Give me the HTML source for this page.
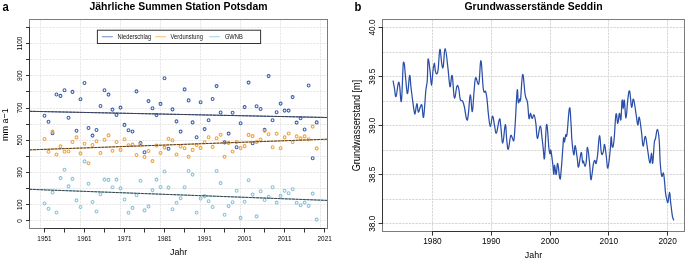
<!DOCTYPE html>
<html><head><meta charset="utf-8"><title>Wasserbilanz Potsdam / Seddin</title>
<style>
html,body{margin:0;padding:0;background:#fff;}
body{width:685px;height:261px;overflow:hidden;font-family:"Liberation Sans",sans-serif;}
svg{display:block;will-change:transform;}
</style></head><body>
<svg width="685" height="261" viewBox="0 0 685 261">
<path d="M29.5 220.50H327.5 M29.5 204.50H327.5 M29.5 188.50H327.5 M29.5 172.50H327.5 M29.5 156.50H327.5 M29.5 140.50H327.5 M29.5 124.50H327.5 M29.5 108.50H327.5 M29.5 91.50H327.5 M29.5 75.50H327.5 M29.5 59.50H327.5 M29.5 43.50H327.5 M29.5 27.50H327.5 M40.50 19.5V228.5 M80.50 19.5V228.5 M120.50 19.5V228.5 M160.50 19.5V228.5 M200.50 19.5V228.5 M240.50 19.5V228.5 M280.50 19.5V228.5 M320.50 19.5V228.5" stroke="#e8e8e8" stroke-width="1" stroke-dasharray="2.4 0.9" fill="none"/>
<g fill="none" stroke="#3a60b5" stroke-width="1.1"><ellipse cx="44.5" cy="115.8" rx="1.42" ry="1.52"/><ellipse cx="48.5" cy="121.8" rx="1.42" ry="1.52"/><ellipse cx="52.5" cy="133.3" rx="1.42" ry="1.52"/><ellipse cx="56.5" cy="94.5" rx="1.42" ry="1.52"/><ellipse cx="60.5" cy="95.9" rx="1.42" ry="1.52"/><ellipse cx="64.5" cy="90.2" rx="1.42" ry="1.52"/><ellipse cx="68.5" cy="117.7" rx="1.42" ry="1.52"/><ellipse cx="72.5" cy="91.9" rx="1.42" ry="1.52"/><ellipse cx="76.5" cy="130.7" rx="1.42" ry="1.52"/><ellipse cx="80.5" cy="99.2" rx="1.42" ry="1.52"/><ellipse cx="84.5" cy="83.0" rx="1.42" ry="1.52"/><ellipse cx="88.5" cy="128.0" rx="1.42" ry="1.52"/><ellipse cx="92.5" cy="135.6" rx="1.42" ry="1.52"/><ellipse cx="96.5" cy="130.0" rx="1.42" ry="1.52"/><ellipse cx="100.5" cy="106.0" rx="1.42" ry="1.52"/><ellipse cx="104.5" cy="90.2" rx="1.42" ry="1.52"/><ellipse cx="108.5" cy="94.6" rx="1.42" ry="1.52"/><ellipse cx="112.5" cy="109.6" rx="1.42" ry="1.52"/><ellipse cx="116.5" cy="114.9" rx="1.42" ry="1.52"/><ellipse cx="120.5" cy="107.6" rx="1.42" ry="1.52"/><ellipse cx="124.5" cy="124.9" rx="1.42" ry="1.52"/><ellipse cx="128.5" cy="130.2" rx="1.42" ry="1.52"/><ellipse cx="132.5" cy="131.5" rx="1.42" ry="1.52"/><ellipse cx="136.5" cy="91.4" rx="1.42" ry="1.52"/><ellipse cx="140.5" cy="143.0" rx="1.42" ry="1.52"/><ellipse cx="144.5" cy="152.2" rx="1.42" ry="1.52"/><ellipse cx="148.5" cy="101.1" rx="1.42" ry="1.52"/><ellipse cx="152.5" cy="108.3" rx="1.42" ry="1.52"/><ellipse cx="156.5" cy="115.1" rx="1.42" ry="1.52"/><ellipse cx="160.5" cy="103.9" rx="1.42" ry="1.52"/><ellipse cx="164.5" cy="78.2" rx="1.42" ry="1.52"/><ellipse cx="168.5" cy="148.7" rx="1.42" ry="1.52"/><ellipse cx="172.5" cy="109.4" rx="1.42" ry="1.52"/><ellipse cx="176.5" cy="121.4" rx="1.42" ry="1.52"/><ellipse cx="180.6" cy="131.6" rx="1.42" ry="1.52"/><ellipse cx="184.6" cy="89.4" rx="1.42" ry="1.52"/><ellipse cx="188.6" cy="100.4" rx="1.42" ry="1.52"/><ellipse cx="192.6" cy="122.4" rx="1.42" ry="1.52"/><ellipse cx="196.6" cy="137.2" rx="1.42" ry="1.52"/><ellipse cx="200.6" cy="102.2" rx="1.42" ry="1.52"/><ellipse cx="204.6" cy="129.1" rx="1.42" ry="1.52"/><ellipse cx="208.6" cy="120.3" rx="1.42" ry="1.52"/><ellipse cx="212.6" cy="99.0" rx="1.42" ry="1.52"/><ellipse cx="216.6" cy="86.1" rx="1.42" ry="1.52"/><ellipse cx="220.6" cy="112.5" rx="1.42" ry="1.52"/><ellipse cx="224.6" cy="142.4" rx="1.42" ry="1.52"/><ellipse cx="228.6" cy="133.6" rx="1.42" ry="1.52"/><ellipse cx="232.6" cy="112.8" rx="1.42" ry="1.52"/><ellipse cx="236.6" cy="147.2" rx="1.42" ry="1.52"/><ellipse cx="240.6" cy="123.2" rx="1.42" ry="1.52"/><ellipse cx="244.6" cy="107.1" rx="1.42" ry="1.52"/><ellipse cx="248.6" cy="82.6" rx="1.42" ry="1.52"/><ellipse cx="252.6" cy="143.3" rx="1.42" ry="1.52"/><ellipse cx="256.6" cy="106.3" rx="1.42" ry="1.52"/><ellipse cx="260.6" cy="109.0" rx="1.42" ry="1.52"/><ellipse cx="264.6" cy="129.9" rx="1.42" ry="1.52"/><ellipse cx="268.6" cy="76.1" rx="1.42" ry="1.52"/><ellipse cx="272.6" cy="120.3" rx="1.42" ry="1.52"/><ellipse cx="276.6" cy="112.2" rx="1.42" ry="1.52"/><ellipse cx="280.6" cy="103.6" rx="1.42" ry="1.52"/><ellipse cx="284.6" cy="110.6" rx="1.42" ry="1.52"/><ellipse cx="288.6" cy="110.6" rx="1.42" ry="1.52"/><ellipse cx="292.6" cy="97.1" rx="1.42" ry="1.52"/><ellipse cx="296.6" cy="122.6" rx="1.42" ry="1.52"/><ellipse cx="300.6" cy="118.3" rx="1.42" ry="1.52"/><ellipse cx="304.6" cy="129.5" rx="1.42" ry="1.52"/><ellipse cx="308.6" cy="85.5" rx="1.42" ry="1.52"/><ellipse cx="312.7" cy="158.3" rx="1.42" ry="1.52"/><ellipse cx="316.7" cy="122.4" rx="1.42" ry="1.52"/></g>
<g fill="none" stroke="#f4a236" stroke-width="1.1"><ellipse cx="44.5" cy="139" rx="1.42" ry="1.52"/><ellipse cx="48.5" cy="151.8" rx="1.42" ry="1.52"/><ellipse cx="52.5" cy="131.6" rx="1.42" ry="1.52"/><ellipse cx="56.5" cy="154.5" rx="1.42" ry="1.52"/><ellipse cx="60.5" cy="146.4" rx="1.42" ry="1.52"/><ellipse cx="64.5" cy="151.8" rx="1.42" ry="1.52"/><ellipse cx="68.5" cy="151.5" rx="1.42" ry="1.52"/><ellipse cx="72.5" cy="142" rx="1.42" ry="1.52"/><ellipse cx="76.5" cy="137.4" rx="1.42" ry="1.52"/><ellipse cx="80.5" cy="153.4" rx="1.42" ry="1.52"/><ellipse cx="84.5" cy="143.8" rx="1.42" ry="1.52"/><ellipse cx="88.5" cy="163.3" rx="1.42" ry="1.52"/><ellipse cx="92.5" cy="145" rx="1.42" ry="1.52"/><ellipse cx="96.5" cy="141.2" rx="1.42" ry="1.52"/><ellipse cx="100.5" cy="153" rx="1.42" ry="1.52"/><ellipse cx="104.5" cy="139.8" rx="1.42" ry="1.52"/><ellipse cx="108.5" cy="135.4" rx="1.42" ry="1.52"/><ellipse cx="112.5" cy="150.8" rx="1.42" ry="1.52"/><ellipse cx="116.5" cy="142" rx="1.42" ry="1.52"/><ellipse cx="120.5" cy="149.9" rx="1.42" ry="1.52"/><ellipse cx="124.5" cy="139.3" rx="1.42" ry="1.52"/><ellipse cx="128.5" cy="145.2" rx="1.42" ry="1.52"/><ellipse cx="132.5" cy="144.6" rx="1.42" ry="1.52"/><ellipse cx="136.5" cy="155" rx="1.42" ry="1.52"/><ellipse cx="140.5" cy="144.6" rx="1.42" ry="1.52"/><ellipse cx="144.5" cy="157" rx="1.42" ry="1.52"/><ellipse cx="148.5" cy="151" rx="1.42" ry="1.52"/><ellipse cx="152.5" cy="161.1" rx="1.42" ry="1.52"/><ellipse cx="156.5" cy="145.6" rx="1.42" ry="1.52"/><ellipse cx="160.5" cy="153" rx="1.42" ry="1.52"/><ellipse cx="164.5" cy="147.6" rx="1.42" ry="1.52"/><ellipse cx="168.5" cy="138.7" rx="1.42" ry="1.52"/><ellipse cx="172.5" cy="140.3" rx="1.42" ry="1.52"/><ellipse cx="176.5" cy="154.5" rx="1.42" ry="1.52"/><ellipse cx="180.6" cy="146.4" rx="1.42" ry="1.52"/><ellipse cx="184.6" cy="148.2" rx="1.42" ry="1.52"/><ellipse cx="188.6" cy="156.7" rx="1.42" ry="1.52"/><ellipse cx="192.6" cy="149.9" rx="1.42" ry="1.52"/><ellipse cx="196.6" cy="145" rx="1.42" ry="1.52"/><ellipse cx="200.6" cy="147.9" rx="1.42" ry="1.52"/><ellipse cx="204.6" cy="142.3" rx="1.42" ry="1.52"/><ellipse cx="208.6" cy="137.2" rx="1.42" ry="1.52"/><ellipse cx="212.6" cy="146.9" rx="1.42" ry="1.52"/><ellipse cx="216.6" cy="138.3" rx="1.42" ry="1.52"/><ellipse cx="220.6" cy="134.7" rx="1.42" ry="1.52"/><ellipse cx="224.6" cy="156.8" rx="1.42" ry="1.52"/><ellipse cx="228.6" cy="142.9" rx="1.42" ry="1.52"/><ellipse cx="232.6" cy="151.5" rx="1.42" ry="1.52"/><ellipse cx="236.6" cy="142.1" rx="1.42" ry="1.52"/><ellipse cx="240.6" cy="148.1" rx="1.42" ry="1.52"/><ellipse cx="244.6" cy="146.1" rx="1.42" ry="1.52"/><ellipse cx="248.6" cy="134.9" rx="1.42" ry="1.52"/><ellipse cx="252.6" cy="136.1" rx="1.42" ry="1.52"/><ellipse cx="256.6" cy="142" rx="1.42" ry="1.52"/><ellipse cx="260.6" cy="139.5" rx="1.42" ry="1.52"/><ellipse cx="264.6" cy="130.8" rx="1.42" ry="1.52"/><ellipse cx="268.6" cy="134.3" rx="1.42" ry="1.52"/><ellipse cx="272.6" cy="147.2" rx="1.42" ry="1.52"/><ellipse cx="276.6" cy="133.8" rx="1.42" ry="1.52"/><ellipse cx="280.6" cy="148.2" rx="1.42" ry="1.52"/><ellipse cx="284.6" cy="137.4" rx="1.42" ry="1.52"/><ellipse cx="288.6" cy="133.5" rx="1.42" ry="1.52"/><ellipse cx="292.6" cy="142.1" rx="1.42" ry="1.52"/><ellipse cx="296.6" cy="136.4" rx="1.42" ry="1.52"/><ellipse cx="300.6" cy="138.4" rx="1.42" ry="1.52"/><ellipse cx="304.6" cy="136.4" rx="1.42" ry="1.52"/><ellipse cx="308.6" cy="139.3" rx="1.42" ry="1.52"/><ellipse cx="312.7" cy="126.6" rx="1.42" ry="1.52"/><ellipse cx="316.7" cy="148.4" rx="1.42" ry="1.52"/></g>
<g fill="none" stroke="#86c5dd" stroke-width="1.1"><ellipse cx="44.5" cy="203.5" rx="1.42" ry="1.52"/><ellipse cx="48.5" cy="208.7" rx="1.42" ry="1.52"/><ellipse cx="52.5" cy="192.5" rx="1.42" ry="1.52"/><ellipse cx="56.5" cy="212.5" rx="1.42" ry="1.52"/><ellipse cx="60.5" cy="178.1" rx="1.42" ry="1.52"/><ellipse cx="64.5" cy="169.8" rx="1.42" ry="1.52"/><ellipse cx="68.5" cy="186.4" rx="1.42" ry="1.52"/><ellipse cx="72.5" cy="178.9" rx="1.42" ry="1.52"/><ellipse cx="76.5" cy="200.4" rx="1.42" ry="1.52"/><ellipse cx="80.5" cy="207" rx="1.42" ry="1.52"/><ellipse cx="84.5" cy="161.4" rx="1.42" ry="1.52"/><ellipse cx="88.5" cy="183.8" rx="1.42" ry="1.52"/><ellipse cx="92.5" cy="202" rx="1.42" ry="1.52"/><ellipse cx="96.5" cy="211.5" rx="1.42" ry="1.52"/><ellipse cx="100.5" cy="194.2" rx="1.42" ry="1.52"/><ellipse cx="104.5" cy="179.6" rx="1.42" ry="1.52"/><ellipse cx="108.5" cy="179.9" rx="1.42" ry="1.52"/><ellipse cx="112.5" cy="187.3" rx="1.42" ry="1.52"/><ellipse cx="116.5" cy="179.6" rx="1.42" ry="1.52"/><ellipse cx="120.5" cy="188.4" rx="1.42" ry="1.52"/><ellipse cx="124.5" cy="199.5" rx="1.42" ry="1.52"/><ellipse cx="128.5" cy="212.7" rx="1.42" ry="1.52"/><ellipse cx="132.5" cy="207.9" rx="1.42" ry="1.52"/><ellipse cx="136.5" cy="195.3" rx="1.42" ry="1.52"/><ellipse cx="140.5" cy="180.7" rx="1.42" ry="1.52"/><ellipse cx="144.5" cy="210.4" rx="1.42" ry="1.52"/><ellipse cx="148.5" cy="206.4" rx="1.42" ry="1.52"/><ellipse cx="152.5" cy="190.1" rx="1.42" ry="1.52"/><ellipse cx="156.5" cy="179.6" rx="1.42" ry="1.52"/><ellipse cx="160.5" cy="187" rx="1.42" ry="1.52"/><ellipse cx="164.5" cy="171.5" rx="1.42" ry="1.52"/><ellipse cx="168.5" cy="187.6" rx="1.42" ry="1.52"/><ellipse cx="172.5" cy="209.3" rx="1.42" ry="1.52"/><ellipse cx="176.5" cy="202.7" rx="1.42" ry="1.52"/><ellipse cx="180.6" cy="198.2" rx="1.42" ry="1.52"/><ellipse cx="184.6" cy="187.3" rx="1.42" ry="1.52"/><ellipse cx="188.6" cy="171" rx="1.42" ry="1.52"/><ellipse cx="192.6" cy="174.6" rx="1.42" ry="1.52"/><ellipse cx="196.6" cy="212.5" rx="1.42" ry="1.52"/><ellipse cx="200.6" cy="198.6" rx="1.42" ry="1.52"/><ellipse cx="204.6" cy="196.1" rx="1.42" ry="1.52"/><ellipse cx="208.6" cy="201.2" rx="1.42" ry="1.52"/><ellipse cx="212.6" cy="207" rx="1.42" ry="1.52"/><ellipse cx="216.6" cy="171" rx="1.42" ry="1.52"/><ellipse cx="220.6" cy="183.1" rx="1.42" ry="1.52"/><ellipse cx="224.6" cy="214.8" rx="1.42" ry="1.52"/><ellipse cx="228.6" cy="206.1" rx="1.42" ry="1.52"/><ellipse cx="232.6" cy="202.3" rx="1.42" ry="1.52"/><ellipse cx="236.6" cy="190.8" rx="1.42" ry="1.52"/><ellipse cx="240.6" cy="217.9" rx="1.42" ry="1.52"/><ellipse cx="244.6" cy="201.8" rx="1.42" ry="1.52"/><ellipse cx="248.6" cy="180.2" rx="1.42" ry="1.52"/><ellipse cx="252.6" cy="194.6" rx="1.42" ry="1.52"/><ellipse cx="256.6" cy="216.4" rx="1.42" ry="1.52"/><ellipse cx="260.6" cy="191.3" rx="1.42" ry="1.52"/><ellipse cx="264.6" cy="200" rx="1.42" ry="1.52"/><ellipse cx="268.6" cy="196.8" rx="1.42" ry="1.52"/><ellipse cx="272.6" cy="187.3" rx="1.42" ry="1.52"/><ellipse cx="276.6" cy="202.6" rx="1.42" ry="1.52"/><ellipse cx="280.6" cy="195.9" rx="1.42" ry="1.52"/><ellipse cx="284.6" cy="190.8" rx="1.42" ry="1.52"/><ellipse cx="288.6" cy="193.3" rx="1.42" ry="1.52"/><ellipse cx="292.6" cy="189.3" rx="1.42" ry="1.52"/><ellipse cx="296.6" cy="202.7" rx="1.42" ry="1.52"/><ellipse cx="300.6" cy="205.3" rx="1.42" ry="1.52"/><ellipse cx="304.6" cy="202.6" rx="1.42" ry="1.52"/><ellipse cx="308.6" cy="205.9" rx="1.42" ry="1.52"/><ellipse cx="312.7" cy="193.6" rx="1.42" ry="1.52"/><ellipse cx="316.7" cy="219.6" rx="1.42" ry="1.52"/></g>
<line x1="29.5" y1="111.3" x2="327.5" y2="117.5" stroke="#3a60b5" stroke-width="1"/>
<line x1="29.5" y1="111.3" x2="327.5" y2="117.5" stroke="#403a3a" stroke-width="0.95" stroke-dasharray="2.8 0.8"/>
<line x1="29.5" y1="149.9" x2="327.5" y2="139.2" stroke="#f4a236" stroke-width="1"/>
<line x1="29.5" y1="149.9" x2="327.5" y2="139.2" stroke="#403a3a" stroke-width="0.95" stroke-dasharray="2.8 0.8"/>
<line x1="29.5" y1="189.3" x2="327.5" y2="200.4" stroke="#6db9d5" stroke-width="1"/>
<line x1="29.5" y1="189.3" x2="327.5" y2="200.4" stroke="#403a3a" stroke-width="0.95" stroke-dasharray="2.8 0.8"/>
<rect x="29.5" y="19.5" width="298" height="209" fill="none" stroke="#7c7c7c" stroke-width="1"/>
<path d="M29.5 27.00V221.00 M26 220.50H29.5 M26 204.50H29.5 M26 188.50H29.5 M26 172.50H29.5 M26 156.50H29.5 M26 140.50H29.5 M26 124.50H29.5 M26 108.50H29.5 M26 91.50H29.5 M26 75.50H29.5 M26 59.50H29.5 M26 43.50H29.5 M26 27.50H29.5 M44.00 228.5H325.00 M44.50 228.5V232.5 M64.50 228.5V232.5 M84.50 228.5V232.5 M104.50 228.5V232.5 M124.50 228.5V232.5 M144.50 228.5V232.5 M164.50 228.5V232.5 M184.50 228.5V232.5 M204.50 228.5V232.5 M224.50 228.5V232.5 M244.50 228.5V232.5 M264.50 228.5V232.5 M284.50 228.5V232.5 M304.50 228.5V232.5 M324.50 228.5V232.5" stroke="#333" stroke-width="1" fill="none"/>
<rect x="97.4" y="30.2" width="163.2" height="13.3" fill="#fff" stroke="#333" stroke-width="1"/>
<line x1="101.9" y1="36.7" x2="112.8" y2="36.7" stroke="#3a60b5" stroke-opacity="0.62" stroke-width="1.2"/>
<line x1="155.3" y1="36.7" x2="166.0" y2="36.7" stroke="#f4a236" stroke-opacity="0.62" stroke-width="1.2"/>
<line x1="209.1" y1="36.7" x2="219.8" y2="36.7" stroke="#6db9d5" stroke-opacity="0.55" stroke-width="1.2"/>
<g font-family='"Liberation Sans", sans-serif' font-size="5.75" fill="#111"><text transform="translate(117.6 38.7) scale(1 1.1)">Niederschlag</text><text transform="translate(170.6 38.7) scale(1 1.1)">Verdunstung</text><text transform="translate(224.9 38.7) scale(1 1.1)">GWNB</text></g>
<text transform="translate(44.45 241.00) scale(1 1.14)" font-family='"Liberation Sans", sans-serif' font-size="6.4" fill="#000" text-anchor="middle">1951</text>
<text transform="translate(84.48 241.00) scale(1 1.14)" font-family='"Liberation Sans", sans-serif' font-size="6.4" fill="#000" text-anchor="middle">1961</text>
<text transform="translate(124.51 241.00) scale(1 1.14)" font-family='"Liberation Sans", sans-serif' font-size="6.4" fill="#000" text-anchor="middle">1971</text>
<text transform="translate(164.54 241.00) scale(1 1.14)" font-family='"Liberation Sans", sans-serif' font-size="6.4" fill="#000" text-anchor="middle">1981</text>
<text transform="translate(204.57 241.00) scale(1 1.14)" font-family='"Liberation Sans", sans-serif' font-size="6.4" fill="#000" text-anchor="middle">1991</text>
<text transform="translate(244.60 241.00) scale(1 1.14)" font-family='"Liberation Sans", sans-serif' font-size="6.4" fill="#000" text-anchor="middle">2001</text>
<text transform="translate(284.63 241.00) scale(1 1.14)" font-family='"Liberation Sans", sans-serif' font-size="6.4" fill="#000" text-anchor="middle">2011</text>
<text transform="translate(324.66 241.00) scale(1 1.14)" font-family='"Liberation Sans", sans-serif' font-size="6.4" fill="#000" text-anchor="middle">2021</text>
<text transform="translate(21.50 220.90) scale(1.14 1) rotate(-90)" font-family='"Liberation Sans", sans-serif' font-size="6.4" fill="#000" text-anchor="middle">0</text>
<text transform="translate(21.50 204.78) scale(1.14 1) rotate(-90)" font-family='"Liberation Sans", sans-serif' font-size="6.4" fill="#000" text-anchor="middle">100</text>
<text transform="translate(21.50 172.53) scale(1.14 1) rotate(-90)" font-family='"Liberation Sans", sans-serif' font-size="6.4" fill="#000" text-anchor="middle">300</text>
<text transform="translate(21.50 140.28) scale(1.14 1) rotate(-90)" font-family='"Liberation Sans", sans-serif' font-size="6.4" fill="#000" text-anchor="middle">500</text>
<text transform="translate(21.50 108.03) scale(1.14 1) rotate(-90)" font-family='"Liberation Sans", sans-serif' font-size="6.4" fill="#000" text-anchor="middle">700</text>
<text transform="translate(21.50 75.78) scale(1.14 1) rotate(-90)" font-family='"Liberation Sans", sans-serif' font-size="6.4" fill="#000" text-anchor="middle">900</text>
<text transform="translate(21.50 43.53) scale(1.14 1) rotate(-90)" font-family='"Liberation Sans", sans-serif' font-size="6.4" fill="#000" text-anchor="middle">1100</text>
<text transform="translate(178.60 254.90) scale(1 1.08)" font-family='"Liberation Sans", sans-serif' font-size="8.9" fill="#000" text-anchor="middle">Jahr</text>
<text transform="translate(8.00 124.60) scale(1.04 1) rotate(-90)" font-family='"Liberation Sans", sans-serif' font-size="9.0" fill="#000" text-anchor="middle">mm a−1</text>
<text transform="translate(178.50 9.60) scale(1 1.03)" font-family='"Liberation Sans", sans-serif' font-size="10.45" font-weight="bold" fill="#000" text-anchor="middle">Jährliche Summen Station Potsdam</text>
<text transform="translate(2.40 10.90) scale(1 1.1)" font-family='"Liberation Sans", sans-serif' font-size="11.3" font-weight="bold" fill="#000" text-anchor="start">a</text>
<path d="M382.5 27.50H684.5 M382.5 52.50H684.5 M382.5 76.50H684.5 M382.5 101.50H684.5 M382.5 125.50H684.5 M382.5 150.50H684.5 M382.5 174.50H684.5 M382.5 199.50H684.5 M382.5 223.50H684.5 M432.50 19.5V231.5 M491.50 19.5V231.5 M550.50 19.5V231.5 M608.50 19.5V231.5 M667.50 19.5V231.5" stroke="#d6d6d6" stroke-width="1" stroke-dasharray="2.3 1.0" fill="none"/>
<path d="M393.10 81.00C393.36 82.38 393.82 84.80 394.40 87.90C394.98 91.00 395.22 97.42 396.00 96.50C396.78 95.58 397.58 85.46 398.30 83.30C399.02 81.14 398.98 82.16 399.60 85.70C400.22 89.24 400.70 104.94 401.40 101.00C402.10 97.06 402.62 73.44 403.10 66.00C403.58 58.56 403.54 64.10 403.80 63.80C404.06 63.50 403.98 61.06 404.40 64.50C404.82 67.94 405.26 75.20 405.90 81.00C406.54 86.80 406.86 94.60 407.60 93.50C408.34 92.40 408.92 76.70 409.60 75.50C410.28 74.30 410.36 82.26 411.00 87.50C411.64 92.74 412.12 96.70 412.80 101.70C413.48 106.70 413.90 110.32 414.40 112.50C414.90 114.68 414.80 114.38 415.30 112.60C415.80 110.82 416.30 103.72 416.90 103.60C417.50 103.48 417.64 111.24 418.30 112.00C418.96 112.76 419.48 108.74 420.20 107.40C420.92 106.06 421.22 103.38 421.90 105.30C422.58 107.22 422.82 119.86 423.60 117.00C424.38 114.14 425.06 98.40 425.80 91.00C426.54 83.60 426.84 86.36 427.30 80.00C427.76 73.64 427.56 61.06 428.10 59.20C428.64 57.34 429.32 65.48 430.00 70.70C430.68 75.92 430.90 85.34 431.50 85.30C432.10 85.26 432.42 74.94 433.00 70.50C433.58 66.06 433.94 63.06 434.40 63.10C434.86 63.14 434.80 68.56 435.30 70.70C435.80 72.84 436.32 74.18 436.90 73.80C437.48 73.42 437.60 73.70 438.20 68.80C438.80 63.90 439.18 50.26 439.90 49.30C440.62 48.34 441.14 60.56 441.80 64.00C442.46 67.44 442.52 69.60 443.20 66.50C443.88 63.40 444.28 48.42 445.20 48.50C446.12 48.58 447.00 60.40 447.80 66.90C448.60 73.40 448.70 77.08 449.20 81.00C449.70 84.92 449.70 87.58 450.30 86.50C450.90 85.42 451.38 73.34 452.20 75.60C453.02 77.86 453.46 95.66 454.40 97.80C455.34 99.94 456.04 88.14 456.90 86.30C457.76 84.46 458.02 85.96 458.70 88.60C459.38 91.24 459.52 97.00 460.30 99.50C461.08 102.00 461.80 99.70 462.60 101.10C463.40 102.50 463.46 102.76 464.30 106.50C465.14 110.24 465.98 118.36 466.80 119.80C467.62 121.24 467.70 118.68 468.40 113.70C469.10 108.72 469.52 95.34 470.30 94.90C471.08 94.46 471.54 112.34 472.30 111.50C473.06 110.66 473.44 97.44 474.10 90.70C474.76 83.96 474.84 79.22 475.60 77.80C476.36 76.38 477.18 82.94 477.90 83.60C478.62 84.26 478.58 85.68 479.20 81.10C479.82 76.52 480.20 59.32 481.00 60.70C481.80 62.08 482.44 81.74 483.20 88.00C483.96 94.26 484.32 91.30 484.80 92.00C485.28 92.70 485.18 90.30 485.60 91.50C486.02 92.70 486.30 93.10 486.90 98.00C487.50 102.90 487.90 110.26 488.60 116.00C489.30 121.74 489.62 126.68 490.40 126.70C491.18 126.72 491.68 116.38 492.50 116.10C493.32 115.82 493.72 121.92 494.50 125.30C495.28 128.68 495.42 134.22 496.40 133.00C497.38 131.78 498.54 120.74 499.40 119.20C500.26 117.66 500.02 120.52 500.70 125.30C501.38 130.08 501.88 143.24 502.80 143.10C503.72 142.96 504.50 125.08 505.30 124.60C506.10 124.12 506.20 135.78 506.80 140.70C507.40 145.62 507.54 150.12 508.30 149.20C509.06 148.28 509.82 138.42 510.60 136.10C511.38 133.78 511.54 136.82 512.20 137.60C512.86 138.38 513.30 142.76 513.90 140.00C514.50 137.24 514.54 133.74 515.20 123.80C515.86 113.86 516.58 94.54 517.20 90.30C517.82 86.06 517.78 100.90 518.30 102.60C518.82 104.30 519.34 99.42 519.80 98.80C520.26 98.18 520.02 104.36 520.60 99.50C521.18 94.64 521.78 75.42 522.70 74.50C523.62 73.58 524.24 89.28 525.20 94.90C526.16 100.52 526.74 97.90 527.50 102.60C528.26 107.30 528.40 116.30 529.00 118.40C529.60 120.50 529.88 113.10 530.50 113.10C531.12 113.10 531.38 118.02 532.10 118.40C532.82 118.78 533.34 113.92 534.10 115.00C534.86 116.08 535.24 119.12 535.90 123.80C536.56 128.48 536.54 137.94 537.40 138.40C538.26 138.86 539.28 126.26 540.20 126.10C541.12 125.94 541.38 132.98 542.00 137.60C542.62 142.22 542.78 145.20 543.30 149.20C543.82 153.20 543.94 162.52 544.60 157.60C545.26 152.68 545.74 126.52 546.60 124.60C547.46 122.68 548.22 142.16 548.90 148.00C549.58 153.84 549.60 153.30 550.00 153.80C550.40 154.30 550.34 148.36 550.90 150.50C551.46 152.64 552.22 159.72 552.80 164.50C553.38 169.28 553.44 174.30 553.80 174.40C554.16 174.50 554.12 164.98 554.60 165.00C555.08 165.02 555.58 174.82 556.20 174.50C556.82 174.18 556.96 162.54 557.70 163.40C558.44 164.26 559.20 177.48 559.90 178.80C560.60 180.12 560.64 175.76 561.20 170.00C561.76 164.24 562.22 156.40 562.70 150.00C563.18 143.60 563.24 139.60 563.60 138.00C563.96 136.40 564.08 142.62 564.50 142.00C564.92 141.38 565.20 136.48 565.70 134.90C566.20 133.32 566.24 139.48 567.00 134.10C567.76 128.72 568.68 109.84 569.50 108.00C570.32 106.16 570.62 118.50 571.10 124.90C571.58 131.30 571.36 134.02 571.90 140.00C572.44 145.98 573.14 153.66 573.80 154.80C574.46 155.94 574.52 145.06 575.20 145.70C575.88 146.34 576.52 153.74 577.20 158.00C577.88 162.26 577.82 168.08 578.60 167.00C579.38 165.92 580.30 153.52 581.10 152.60C581.90 151.68 582.14 160.70 582.60 162.40C583.06 164.10 582.92 160.30 583.40 161.10C583.88 161.90 584.42 166.40 585.00 166.40C585.58 166.40 585.80 164.92 586.30 161.10C586.80 157.28 586.86 147.00 587.50 147.30C588.14 147.60 588.84 156.22 589.50 162.60C590.16 168.98 590.28 176.96 590.80 179.20C591.32 181.44 591.60 176.76 592.10 173.80C592.60 170.84 592.78 167.10 593.30 164.40C593.82 161.70 594.14 160.50 594.70 160.30C595.26 160.10 595.52 164.48 596.10 163.40C596.68 162.32 596.92 160.44 597.60 154.90C598.28 149.36 598.74 136.08 599.50 135.70C600.26 135.32 600.64 149.76 601.40 153.00C602.16 156.24 602.66 153.60 603.30 151.90C603.94 150.20 604.00 143.58 604.60 144.50C605.20 145.42 605.64 151.80 606.30 156.50C606.96 161.20 607.12 169.24 607.90 168.00C608.68 166.76 609.54 156.54 610.20 150.30C610.86 144.06 610.78 137.46 611.20 136.80C611.62 136.14 611.74 146.26 612.30 147.00C612.86 147.74 613.26 147.06 614.00 140.50C614.74 133.94 615.24 117.62 616.00 114.20C616.76 110.78 617.12 123.56 617.80 123.40C618.48 123.24 618.78 114.16 619.40 113.40C620.02 112.64 620.36 122.22 620.90 119.60C621.44 116.98 621.64 102.48 622.10 100.30C622.56 98.12 622.76 108.70 623.20 108.70C623.64 108.70 623.74 98.44 624.30 100.30C624.86 102.16 625.30 118.16 626.00 118.00C626.70 117.84 627.08 104.88 627.80 99.50C628.52 94.12 628.84 89.56 629.60 91.10C630.36 92.64 630.82 105.58 631.60 107.20C632.38 108.82 632.58 97.64 633.50 99.20C634.42 100.76 635.34 109.86 636.20 115.00C637.06 120.14 637.18 124.44 637.80 124.90C638.42 125.36 638.54 115.68 639.30 117.30C640.06 118.92 640.84 127.26 641.60 133.00C642.36 138.74 642.34 145.30 643.10 146.00C643.86 146.70 644.48 135.64 645.40 136.50C646.32 137.36 646.80 145.00 647.70 150.30C648.60 155.60 649.14 162.46 649.90 163.00C650.66 163.54 650.94 152.96 651.50 153.00C652.06 153.04 652.14 165.26 652.70 163.20C653.26 161.14 653.76 147.54 654.30 142.70C654.84 137.86 654.76 141.64 655.40 139.00C656.04 136.36 656.74 129.24 657.50 129.50C658.26 129.76 658.66 133.74 659.20 140.30C659.74 146.86 659.70 155.14 660.20 162.30C660.70 169.46 661.06 173.96 661.70 176.10C662.34 178.24 662.84 172.02 663.40 173.00C663.96 173.98 664.08 177.06 664.50 181.00C664.92 184.94 665.04 188.98 665.50 192.70C665.96 196.42 666.30 197.70 666.80 199.60C667.30 201.50 667.46 203.64 668.00 202.20C668.54 200.76 668.98 192.46 669.50 192.40C670.02 192.34 670.16 198.18 670.60 201.90C671.04 205.62 671.30 207.94 671.70 211.00C672.10 214.06 672.20 215.42 672.60 217.20C673.00 218.98 673.48 219.36 673.70 219.90" fill="none" stroke="#2b4fa8" stroke-width="1.25" stroke-linejoin="round" stroke-linecap="round"/>
<rect x="382.5" y="19.5" width="302" height="212" fill="none" stroke="#7c7c7c" stroke-width="1"/>
<path d="M382.5 27.00V224.00 M378.6 27.50H382.5 M378.6 76.50H382.5 M378.6 125.50H382.5 M378.6 174.50H382.5 M378.6 223.50H382.5 M432.00 231.5H668.00 M432.50 231.5V235.6 M491.50 231.5V235.6 M550.50 231.5V235.6 M608.50 231.5V235.6 M667.50 231.5V235.6" stroke="#333" stroke-width="1" fill="none"/>
<text transform="translate(432.40 244.00) scale(1 1.14)" font-family='"Liberation Sans", sans-serif' font-size="8.3" fill="#000" text-anchor="middle">1980</text>
<text transform="translate(491.20 244.00) scale(1 1.14)" font-family='"Liberation Sans", sans-serif' font-size="8.3" fill="#000" text-anchor="middle">1990</text>
<text transform="translate(550.00 244.00) scale(1 1.14)" font-family='"Liberation Sans", sans-serif' font-size="8.3" fill="#000" text-anchor="middle">2000</text>
<text transform="translate(608.80 244.00) scale(1 1.14)" font-family='"Liberation Sans", sans-serif' font-size="8.3" fill="#000" text-anchor="middle">2010</text>
<text transform="translate(667.60 244.00) scale(1 1.14)" font-family='"Liberation Sans", sans-serif' font-size="8.3" fill="#000" text-anchor="middle">2020</text>
<text transform="translate(374.60 27.50) scale(1.14 1) rotate(-90)" font-family='"Liberation Sans", sans-serif' font-size="8.3" fill="#000" text-anchor="middle">40.0</text>
<text transform="translate(374.60 76.58) scale(1.14 1) rotate(-90)" font-family='"Liberation Sans", sans-serif' font-size="8.3" fill="#000" text-anchor="middle">39.5</text>
<text transform="translate(374.60 125.65) scale(1.14 1) rotate(-90)" font-family='"Liberation Sans", sans-serif' font-size="8.3" fill="#000" text-anchor="middle">39.0</text>
<text transform="translate(374.60 174.73) scale(1.14 1) rotate(-90)" font-family='"Liberation Sans", sans-serif' font-size="8.3" fill="#000" text-anchor="middle">38.5</text>
<text transform="translate(374.60 223.80) scale(1.14 1) rotate(-90)" font-family='"Liberation Sans", sans-serif' font-size="8.3" fill="#000" text-anchor="middle">38.0</text>
<text transform="translate(533.50 258.00) scale(1 1.08)" font-family='"Liberation Sans", sans-serif' font-size="8.9" fill="#000" text-anchor="middle">Jahr</text>
<text transform="translate(360.30 125.50) scale(1.15 1) rotate(-90)" font-family='"Liberation Sans", sans-serif' font-size="9.1" fill="#000" text-anchor="middle">Grundwasserstand [m]</text>
<text transform="translate(533.50 9.60) scale(1 1.03)" font-family='"Liberation Sans", sans-serif' font-size="10.45" font-weight="bold" fill="#000" text-anchor="middle">Grundwasserstände Seddin</text>
<text transform="translate(354.50 10.90) scale(1 1.1)" font-family='"Liberation Sans", sans-serif' font-size="11.3" font-weight="bold" fill="#000" text-anchor="start">b</text>
</svg>
</body></html>
